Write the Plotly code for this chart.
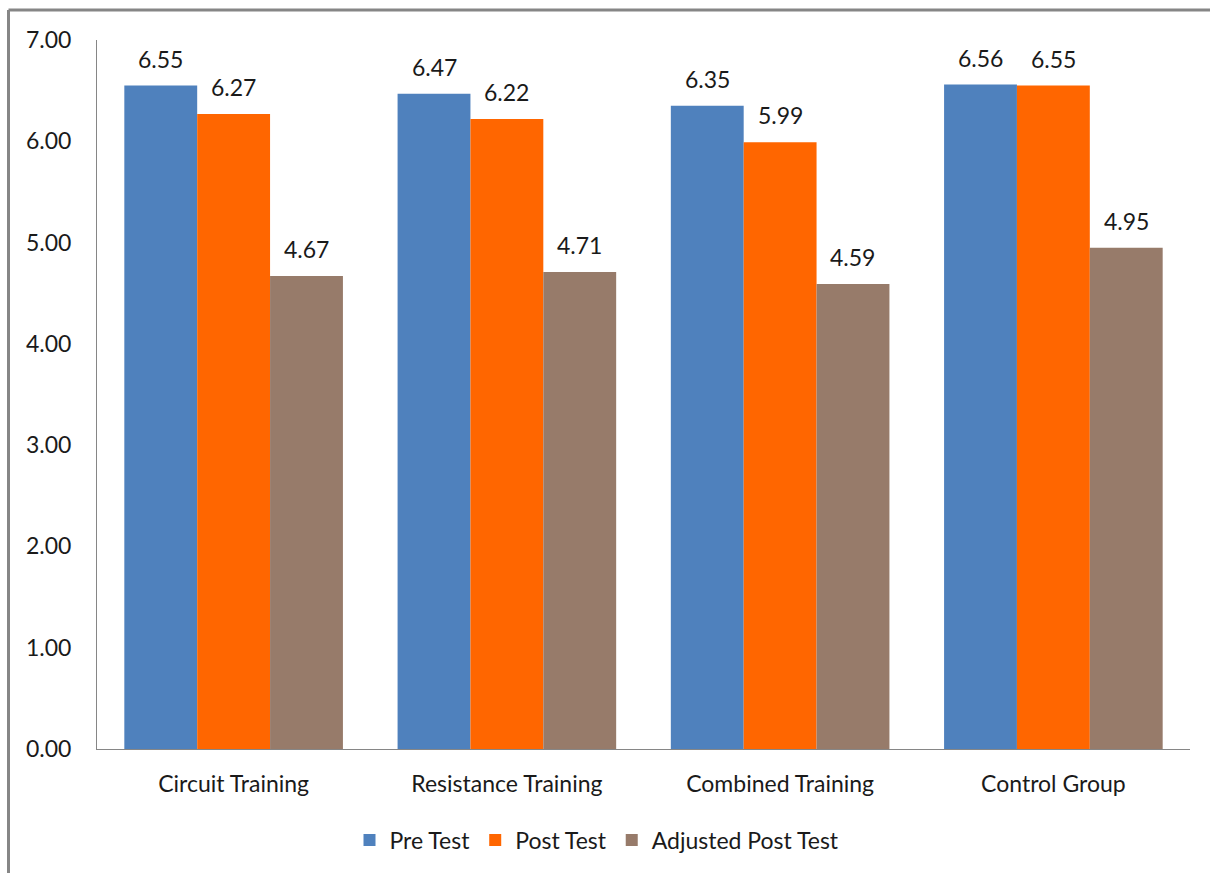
import plotly.graph_objects as go

categories = ["Circuit Training", "Resistance Training", "Combined Training", "Control Group"]
pre_test = [6.55, 6.47, 6.35, 6.56]
post_test = [6.27, 6.22, 5.99, 6.55]
adjusted_post_test = [4.67, 4.71, 4.59, 4.95]
y_ticks = [0, 1, 2, 3, 4, 5, 6, 7]

series = [
    ("Pre Test", pre_test, "#4F81BD"),
    ("Post Test", post_test, "#FF6600"),
    ("Adjusted Post Test", adjusted_post_test, "#977B6A"),
]

FONT = "Lato"
TXT = "#1a1a1a"
W, H = 1210, 873
ML, MR, MT, MB = 97, 20, 40, 124
BARGAP = 0.2

fig = go.Figure()
for name, vals, color in series:
    fig.add_trace(go.Bar(
        name=name, x=categories, y=vals,
        marker=dict(color=color, line=dict(width=0)),
    ))

# value labels above each bar, placed at the grouped bar centres
n = len(series)
w = (1 - BARGAP) / n
annotations = []
for j, (name, vals, color) in enumerate(series):
    for i, v in enumerate(vals):
        annotations.append(dict(
            x=i + (j - (n - 1) / 2) * w, y=v, xref="x", yref="y",
            text=f"{v:.2f}", showarrow=False, yanchor="middle", yshift=27,
            font=dict(family=FONT, size=23, color=TXT),
        ))

# outer frame (top and left edges)
pw, ph = W - ML - MR, H - MT - MB
left_x = (8.5 - ML) / pw
top_y = (H - MB - 10) / ph
bottom_y = (H - MB - H) / ph
right_x = (W - ML) / pw
shapes = [
    dict(type="line", xref="paper", yref="paper", x0=left_x, x1=left_x,
         y0=bottom_y, y1=top_y, line=dict(color="#868686", width=3)),
    dict(type="line", xref="paper", yref="paper", x0=left_x, x1=right_x,
         y0=top_y, y1=top_y, line=dict(color="#868686", width=3)),
]

fig.update_layout(
    width=W, height=H,
    margin=dict(l=ML, r=MR, t=MT, b=MB),
    paper_bgcolor="white", plot_bgcolor="white",
    barmode="group", bargap=BARGAP, bargroupgap=0,
    font=dict(family=FONT, size=23, color=TXT),
    showlegend=True,
    legend=dict(orientation="h", xref="container", x=0.5 - 8 / W, xanchor="center",
                yref="container", y=(H - 840) / H, yanchor="middle",
                font=dict(family=FONT, size=23, color=TXT),
                itemsizing="constant", traceorder="normal"),
    annotations=annotations,
    shapes=shapes,
)
fig.update_xaxes(showline=True, linecolor="#868686", linewidth=1,
                 showgrid=False, ticks="", ticklabelstandoff=14,
                 tickfont=dict(family=FONT, size=23, color=TXT))
fig.update_yaxes(range=[0, 7], tickvals=y_ticks,
                 ticktext=[f"{t:.2f}" for t in y_ticks],
                 showline=True, linecolor="#868686", linewidth=1,
                 showgrid=False, zeroline=False, ticks="",
                 ticklabelstandoff=20,
                 tickfont=dict(family=FONT, size=23, color=TXT))

fig.write_html("out.html")
